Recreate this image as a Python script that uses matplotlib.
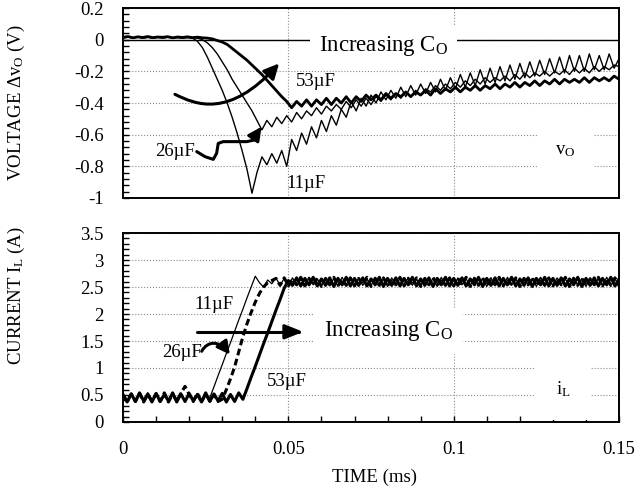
import numpy as np
import matplotlib
matplotlib.use("Agg")
import matplotlib.pyplot as plt
from matplotlib.patches import FancyArrowPatch
from matplotlib.path import Path
from matplotlib.ticker import AutoMinorLocator, FuncFormatter, MultipleLocator

plt.rcParams["font.family"] = ["Liberation Serif", "DejaVu Serif"]
plt.rcParams["mathtext.fontset"] = "custom"
plt.rcParams["mathtext.rm"] = "Liberation Serif"
plt.rcParams["mathtext.it"] = "Liberation Serif:italic"
plt.rcParams["axes.unicode_minus"] = False

# ===== DATA: output voltage deviation (V), sampled every 1.5 us =====
T_V = np.arange(101) * 0.0015

VO_11UF = [0.012, 0.018, 0.010, 0.015, 0.011, 0.016, 0.010, 0.014, 0.012, 0.016,
           0.011, 0.014, 0.010, 0.013, 0.010,
           -0.01, -0.05, -0.11, -0.18, -0.25, -0.32, -0.40, -0.49, -0.59, -0.70,
           -0.82, -0.97, -0.84, -0.74, -0.79, -0.72, -0.78, -0.70, -0.80, -0.63,
           -0.70, -0.59, -0.66, -0.55, -0.62, -0.51, -0.58, -0.48, -0.54, -0.44,
           -0.49, -0.39, -0.45, -0.37, -0.42, -0.35, -0.40, -0.33, -0.38, -0.32,
           -0.37, -0.30, -0.36, -0.29, -0.35, -0.28, -0.34, -0.27, -0.33, -0.25,
           -0.32, -0.24, -0.31, -0.22, -0.30, -0.21, -0.29, -0.19, -0.28, -0.18,
           -0.27, -0.17, -0.26, -0.16, -0.25, -0.15, -0.24, -0.14, -0.23, -0.13,
           -0.22, -0.12, -0.21, -0.11, -0.21, -0.10, -0.20, -0.10, -0.20, -0.09,
           -0.19, -0.10, -0.19, -0.09, -0.18, -0.12]

VO_26UF = [0.010, 0.015, 0.012, 0.017, 0.010, 0.014, 0.012, 0.016, 0.010, 0.015,
           0.012, 0.014, 0.011, 0.015, 0.012, 0.010,
           0.00, -0.02, -0.05, -0.09, -0.14, -0.19, -0.25, -0.30, -0.35, -0.40,
           -0.45, -0.51, -0.57, -0.51, -0.55, -0.49, -0.53, -0.48, -0.52, -0.46,
           -0.50, -0.45, -0.48, -0.43, -0.47, -0.42, -0.45, -0.41, -0.44, -0.39,
           -0.43, -0.38, -0.42, -0.37, -0.41, -0.36, -0.39, -0.35, -0.38, -0.34,
           -0.37, -0.33, -0.36, -0.32, -0.35, -0.31, -0.33, -0.29, -0.32, -0.28,
           -0.31, -0.27, -0.30, -0.26, -0.29, -0.25, -0.28, -0.24, -0.27, -0.24,
           -0.26, -0.23, -0.26, -0.22, -0.25, -0.21, -0.24, -0.21, -0.23, -0.20,
           -0.23, -0.20, -0.22, -0.19, -0.22, -0.18, -0.21, -0.18, -0.21, -0.17,
           -0.20, -0.17, -0.19, -0.16, -0.17]

VO_53UF = [0.015, 0.020, 0.012, 0.018, 0.014, 0.020, 0.013, 0.017, 0.015, 0.019,
           0.012, 0.017, 0.014, 0.018, 0.013, 0.016, 0.012, 0.010,
           0.005, -0.005, -0.015, -0.03, -0.055, -0.08, -0.105, -0.13, -0.16, -0.19,
           -0.22, -0.255, -0.29, -0.325, -0.36, -0.39, -0.43, -0.39, -0.42, -0.38,
           -0.42, -0.38, -0.41, -0.37, -0.41, -0.37, -0.40, -0.36, -0.40, -0.36,
           -0.39, -0.35, -0.38, -0.35, -0.38, -0.34, -0.37, -0.34, -0.36, -0.33,
           -0.36, -0.33, -0.35, -0.32, -0.35, -0.31, -0.34, -0.31, -0.33, -0.30,
           -0.33, -0.30, -0.32, -0.29, -0.32, -0.29, -0.31, -0.28, -0.31, -0.28,
           -0.30, -0.27, -0.30, -0.27, -0.29, -0.26, -0.29, -0.26, -0.28, -0.25,
           -0.28, -0.25, -0.27, -0.25, -0.27, -0.24, -0.27, -0.24, -0.26, -0.24,
           -0.26, -0.23, -0.25]

# ===== DATA: inductor current (A), sampled every 1.25 us =====
T_I = np.arange(121) * 0.00125

IL_11UF = [0.50, 0.38, 0.53, 0.37, 0.51, 0.39, 0.54, 0.38, 0.52, 0.37,
           0.53, 0.39, 0.51, 0.38, 0.54, 0.37, 0.52, 0.39, 0.53, 0.38, 0.50,
           0.45, 0.65, 0.86, 1.06, 1.27, 1.47, 1.68, 1.89, 2.09, 2.30, 2.50,
           2.70, 2.58, 2.50, 2.63, 2.56, 2.67, 2.53, 2.66, 2.52,
           2.67, 2.53, 2.66, 2.52, 2.68, 2.54, 2.65, 2.52, 2.67, 2.53,
           2.66, 2.51, 2.68, 2.54, 2.66, 2.52, 2.67, 2.53, 2.65, 2.52,
           2.68, 2.54, 2.66, 2.51, 2.67, 2.53, 2.66, 2.52, 2.68, 2.53,
           2.65, 2.52, 2.67, 2.54, 2.66, 2.51, 2.68, 2.53, 2.66, 2.52,
           2.67, 2.54, 2.65, 2.52, 2.68, 2.53, 2.66, 2.51, 2.67, 2.54,
           2.66, 2.52, 2.68, 2.53, 2.65, 2.52, 2.67, 2.54, 2.66, 2.51,
           2.68, 2.53, 2.66, 2.52, 2.67, 2.54, 2.65, 2.52, 2.68, 2.53,
           2.66, 2.51, 2.67, 2.54, 2.66, 2.52, 2.68, 2.53, 2.65, 2.52]

IL_26UF = [0.49, 0.39, 0.52, 0.38, 0.53, 0.37, 0.51, 0.39, 0.52, 0.38,
           0.54, 0.37, 0.52, 0.39, 0.53, 0.66, 0.51, 0.38, 0.53, 0.37,
           0.52, 0.39, 0.51, 0.38,
           0.42, 0.60, 0.80, 1.02, 1.30, 1.58, 1.82, 2.03, 2.22, 2.38, 2.50,
           2.58, 2.62,
           2.66, 2.53, 2.67, 2.52, 2.65, 2.54, 2.68, 2.52, 2.66, 2.53,
           2.67, 2.51, 2.66, 2.54, 2.68, 2.52, 2.65, 2.53, 2.67, 2.52,
           2.66, 2.54, 2.68, 2.51, 2.66, 2.53, 2.67, 2.52, 2.65, 2.54,
           2.68, 2.52, 2.66, 2.53, 2.67, 2.51, 2.66, 2.54, 2.68, 2.52,
           2.65, 2.53, 2.67, 2.52, 2.66, 2.54, 2.68, 2.51, 2.66, 2.53,
           2.67, 2.52, 2.65, 2.54, 2.68, 2.52, 2.66, 2.53, 2.67, 2.51,
           2.66, 2.54, 2.68, 2.52, 2.65, 2.53, 2.67, 2.52, 2.66, 2.54,
           2.68, 2.51, 2.66, 2.53, 2.67, 2.52, 2.65, 2.54, 2.68, 2.52,
           2.66, 2.53, 2.67, 2.52]

IL_53UF = [0.51, 0.37, 0.52, 0.38, 0.54, 0.39, 0.52, 0.37, 0.53, 0.38,
           0.51, 0.39, 0.54, 0.37, 0.52, 0.38, 0.53, 0.39, 0.51, 0.37,
           0.54, 0.38, 0.52, 0.39, 0.53, 0.37, 0.51, 0.38, 0.54,
           0.42, 0.62, 0.83, 1.03, 1.24, 1.45, 1.65, 1.86, 2.07, 2.27, 2.48,
           2.62,
           2.53, 2.67, 2.52, 2.66, 2.54, 2.68, 2.52, 2.65, 2.53, 2.67,
           2.51, 2.66, 2.54, 2.68, 2.52, 2.66, 2.53, 2.67, 2.52, 2.65,
           2.54, 2.68, 2.51, 2.66, 2.53, 2.67, 2.52, 2.66, 2.54, 2.68,
           2.52, 2.65, 2.53, 2.67, 2.51, 2.66, 2.54, 2.68, 2.52, 2.66,
           2.53, 2.67, 2.52, 2.65, 2.54, 2.68, 2.51, 2.66, 2.53, 2.67,
           2.52, 2.66, 2.54, 2.68, 2.52, 2.65, 2.53, 2.67, 2.51, 2.66,
           2.54, 2.68, 2.52, 2.66, 2.53, 2.67, 2.52, 2.65, 2.54, 2.68,
           2.51, 2.66, 2.53, 2.67, 2.52, 2.66, 2.54, 2.68, 2.52, 2.65]

FS = 13.5
GRID = dict(color="#8a8a8a", linestyle=":", linewidth=0.8)
WHITE_BOX = dict(boxstyle="square", facecolor="white", edgecolor="none")


def style_axes(ax):
    for sp in ax.spines.values():
        sp.set_linewidth(1.4)
    ax.tick_params(which="both", direction="in", length=4, width=1,
                   labelsize=FS, pad=14, top=False, right=False)
    ax.xaxis.set_major_locator(MultipleLocator(0.05))
    ax.xaxis.set_minor_locator(AutoMinorLocator(5))
    ax.yaxis.set_minor_locator(AutoMinorLocator(5))
    fmt = FuncFormatter(lambda v, p: f"{round(v, 6):g}")
    ax.xaxis.set_major_formatter(fmt)
    ax.yaxis.set_major_formatter(fmt)
    ax.grid(True, which="major", **GRID)
    ax.set_axisbelow(True)
    ax.set_xlim(0, 0.15)


def arrow_path(ax, pts, codes=None, scale=20, hl=0.45, hw=0.22, lw=2.2):
    path = Path(pts, codes)
    arr = FancyArrowPatch(path=path, arrowstyle=f"-|>,head_length={hl},head_width={hw}",
                          mutation_scale=scale, lw=lw, color="black", zorder=6)
    ax.add_patch(arr)


fig = plt.figure(figsize=(6.36, 5.01), dpi=100)
ax1 = fig.add_axes([0.1934, 0.6048, 0.7800, 0.3792])
ax2 = fig.add_axes([0.1934, 0.1577, 0.7800, 0.3772])

# ===== TOP: VOLTAGE =====
style_axes(ax1)
ax1.set_ylim(-1, 0.2)
ax1.yaxis.set_major_locator(MultipleLocator(0.2))
ax1.tick_params(axis="x", which="both", bottom=False, labelbottom=False)
ax1.axhline(0, color="black", lw=1.0, zorder=1)

ax1.plot(T_V, VO_11UF, color="black", lw=1.0, zorder=3)
ax1.plot(T_V, VO_26UF, color="black", lw=1.0, zorder=3)
ax1.plot(T_V, VO_53UF, color="black", lw=2.0, zorder=3)

ax1.set_ylabel(r"VOLTAGE $\Delta$v$_\mathrm{O}$ (V)", fontsize=FS)
ax1.yaxis.set_label_coords(-0.194, 0.5)

ax1.text(0.0592, -0.04, r"Increasing C$_\mathrm{O}$", fontsize=16.5, va="center",
         ha="left", zorder=5, bbox=dict(WHITE_BOX, pad=0.4))
ax1.text(0.0522, -0.265, "53µF", fontsize=FS, va="center", ha="left", zorder=5)
ax1.text(0.0097, -0.707, "26µF", fontsize=FS, va="center", ha="left", zorder=5)
ax1.text(0.0494, -0.907, "11µF", fontsize=FS, va="center", ha="left", zorder=5)
ax1.text(0.1338, -0.70, r"v$_\mathrm{O}$", fontsize=FS, va="center", ha="center",
         zorder=5, bbox=dict(WHITE_BOX, pad=1.0))

# sweep arrow across the three voltage dips
arrow_path(ax1, [(0.0157, -0.345), (0.022, -0.41), (0.032, -0.50), (0.0472, -0.15)],
           [Path.MOVETO, Path.CURVE4, Path.CURVE4, Path.CURVE4])
# wavy pointer to the 26uF dip
arrow_path(ax1, [(0.0223, -0.707), (0.0248, -0.739), (0.0273, -0.756), (0.0283, -0.718),
                 (0.0288, -0.655), (0.0303, -0.644), (0.0374, -0.644), (0.0399, -0.633),
                 (0.0409, -0.58), (0.0419, -0.55)], hl=0.4, hw=0.2)

# ===== BOTTOM: CURRENT =====
style_axes(ax2)
ax2.set_ylim(0, 3.5)
ax2.yaxis.set_major_locator(MultipleLocator(0.5))

ax2.plot(T_I, IL_11UF, color="black", lw=0.9, zorder=3)
ax2.plot(T_I, IL_26UF, color="black", lw=2.2, ls=(0, (2.2, 1.2)), zorder=3)
ax2.plot(T_I, IL_53UF, color="black", lw=2.2, zorder=3)

ax2.set_ylabel(r"CURRENT I$_\mathrm{L}$ (A)", fontsize=FS)
ax2.yaxis.set_label_coords(-0.194, 0.67)
ax2.set_xlabel("TIME (ms)", fontsize=FS)
ax2.xaxis.set_label_coords(0.506, -0.245)

ax2.text(0.0607, 1.68, r"Increasing C$_\mathrm{O}$", fontsize=16.5, va="center",
         ha="left", zorder=5, bbox=dict(WHITE_BOX, pad=0.45))
ax2.text(0.0215, 2.18, "11µF", fontsize=FS, va="center", ha="left", zorder=5)
ax2.text(0.0117, 1.28, "26µF", fontsize=FS, va="center", ha="left", zorder=5)
ax2.text(0.0434, 0.75, "53µF", fontsize=FS, va="center", ha="left", zorder=5)
ax2.text(0.133, 0.60, r"i$_\mathrm{L}$", fontsize=FS, va="center", ha="center",
         zorder=5, bbox=dict(WHITE_BOX, pad=1.1))

arrow_path(ax2, [(0.0223, 1.67), (0.0545, 1.67)], hl=0.55, hw=0.22)
arrow_path(ax2, [(0.0238, 1.31), (0.0255, 1.50), (0.0290, 1.52), (0.0323, 1.25)],
           [Path.MOVETO, Path.CURVE4, Path.CURVE4, Path.CURVE4], hl=0.38, hw=0.2)

fig.savefig("out.png", dpi=100)
